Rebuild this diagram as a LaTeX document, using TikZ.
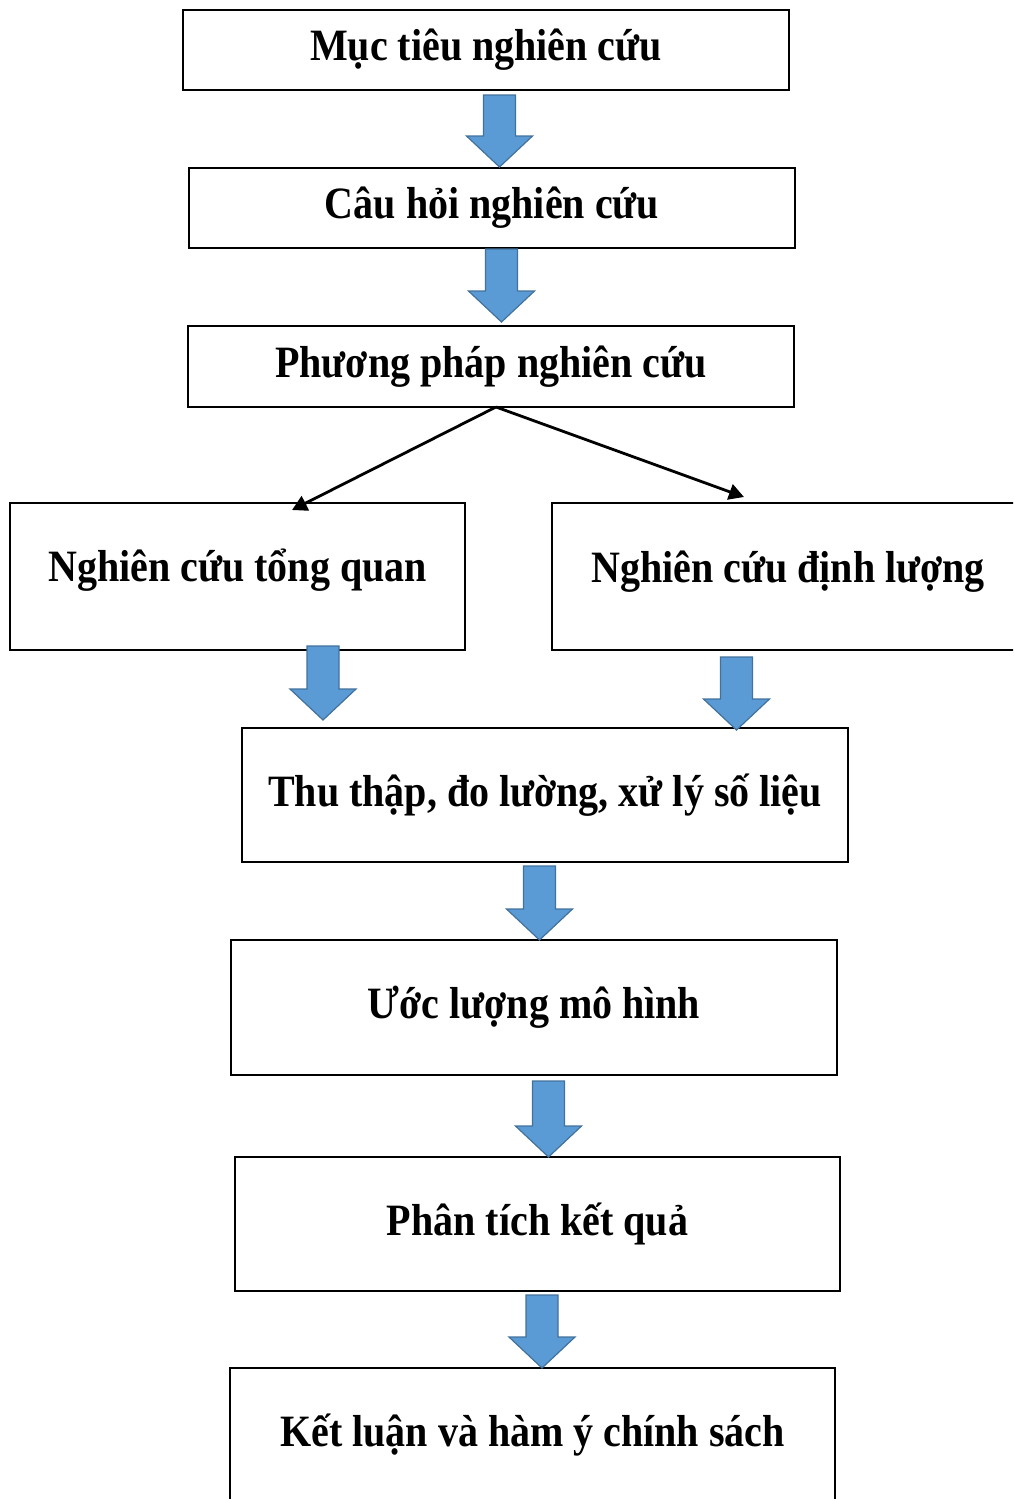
\documentclass[tikz,border=0pt]{standalone}
\usepackage{fontspec}
\setmainfont{Liberation Serif}
\usetikzlibrary{arrows.meta}
\definecolor{arrfill}{HTML}{5B9BD5}
\definecolor{arrline}{HTML}{41719C}
\tikzset{
  box/.style={draw=black, line width=2pt, inner sep=0pt, fill=white,
    font=\bfseries\fontsize{40}{46}\selectfont},
  bluearr/.style={fill=arrfill, draw=arrline, line width=1.2pt, line join=miter},
  split/.style={draw=black, line width=2.8pt, -{Triangle[length=15pt,width=16pt]}}
}
\newcommand{\T}[2][0pt]{\raisebox{#1}{\scalebox{1}[1.12]{#2}}}
\newcommand{\blockarr}[3]{% x, ytop, ytip
  \path[bluearr] (#1-16,#2) -- (#1+16,#2) -- (#1+16,#3-31) -- (#1+33,#3-31) -- (#1,#3) -- (#1-33,#3-31) -- (#1-16,#3-31) -- cycle;}
\begin{document}
\begin{tikzpicture}[x=1pt,y=-1pt]
\useasboundingbox (0,0) rectangle (1013,1499);
\clip (0,0) rectangle (1013,1499);
\node[box, minimum width=606pt, minimum height=80pt] (b1) at (486,50) {\T[5pt]{Mục tiêu nghiên cứu}};
\node[box, minimum width=606pt, minimum height=80pt] (b2) at (492,208) {\T[4pt]{Câu hỏi nghiên cứu}};
\node[box, minimum width=606pt, minimum height=81pt] (b3) at (491,366.5) {\T[2pt]{Phương pháp nghiên cứu}};
\node[box, minimum width=455pt, minimum height=147pt] (b4) at (237.5,576.5) {\T[22pt]{Nghiên cứu tổng quan}};
\node[box, minimum width=472pt, minimum height=147pt] (b5) at (788,576.5) {\T[20pt]{Nghiên cứu định lượng}};
\node[box, minimum width=606pt, minimum height=134pt] (b6) at (545,795) {\T{Thu thập, đo lường, xử lý số liệu}};
\node[box, minimum width=606pt, minimum height=135pt] (b7) at (534,1007.5) {\T{Ước lượng mô hình}};
\node[box, minimum width=605pt, minimum height=134pt] (b8) at (537.5,1224) {\T{Phân tích kết quả}};
\node[box, minimum width=605pt, minimum height=134pt] (b9) at (532.5,1435) {\T{Kết luận và hàm ý chính sách}};
\coordinate (s) at (496,407);
\coordinate (tl) at (292,510);
\coordinate (tr) at (744,497);
\draw[split] (s) -- (tl);
\draw[split] (s) -- (tr);
\blockarr{499.5}{95}{167}
\blockarr{501.5}{249}{322}
\blockarr{323}{646}{720}
\blockarr{736.5}{657}{730}
\blockarr{539.5}{866}{940}
\blockarr{548.5}{1081}{1157}
\blockarr{542}{1295}{1368}
\end{tikzpicture}
\end{document}
